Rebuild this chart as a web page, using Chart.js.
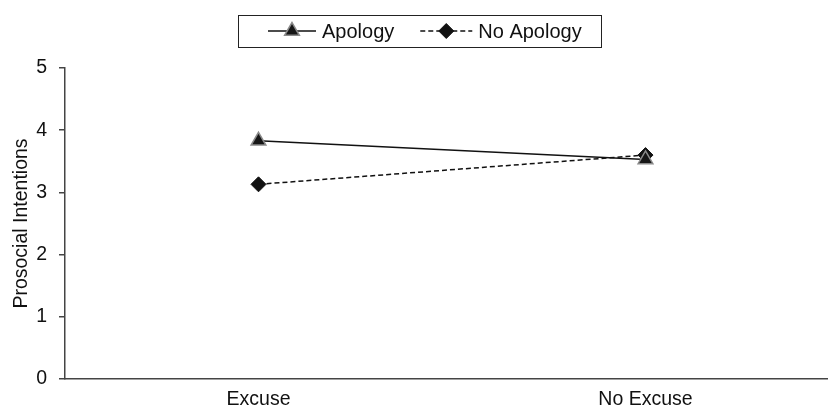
<!DOCTYPE html>
<html>
<head>
<meta charset="utf-8">
<script src="https://cdn.jsdelivr.net/npm/chart.js@4"></script>
<style>
  html, body { margin: 0; padding: 0; background: #fff; overflow: hidden; }
</style>
</head>
<body>
<canvas id="chart" width="849" height="411"></canvas>
<script>
const categories = ['Excuse', 'No Excuse']
const apology = [3.83, 3.53]
const noApology = [3.13, 3.60]
const yTicks = [0, 1, 2, 3, 4, 5]

const FONT = '"Liberation Sans", Arial, Helvetica, sans-serif'

// legend box drawn by hand, the library legend has no frame and no line samples
const legendBox = {
  id: 'legendBox',
  afterDraw(chart) {
    const ctx = chart.ctx
    const cy = 31
    ctx.save()
    ctx.font = '20px ' + FONT
    ctx.strokeStyle = '#222'
    ctx.lineWidth = 1
    ctx.strokeRect(238.5, 15.5, 363, 32)

    let x = 268
    chart.data.datasets.forEach(ds => {
      const sample = ds.borderDash ? 52 : 48
      ctx.strokeStyle = '#111'
      ctx.lineWidth = 1.5
      ctx.setLineDash(ds.borderDash || [])
      ctx.beginPath()
      ctx.moveTo(x, cy)
      ctx.lineTo(x + sample, cy)
      ctx.stroke()
      ctx.setLineDash([])
      ctx.fillStyle = ds.pointBackgroundColor
      ctx.strokeStyle = ds.pointBorderColor
      ctx.lineWidth = ds.pointBorderWidth
      Chart.helpers.drawPoint(ctx, { pointStyle: ds.pointStyle, radius: ds.pointRadius, rotation: 0, borderWidth: ds.pointBorderWidth }, x + sample / 2, cy)
      x += sample + 6
      ctx.fillStyle = '#111'
      ctx.textBaseline = 'middle'
      ctx.textAlign = 'left'
      ctx.fillText(ds.label, x, cy + 1)
      x += ctx.measureText(ds.label).width + 26
    })
    ctx.restore()
  }
}

new Chart(document.getElementById('chart'), {
  type: 'line',
  data: {
    labels: categories,
    datasets: [
      {
        label: 'Apology',
        data: apology,
        borderColor: '#111',
        borderWidth: 1.5,
        pointStyle: 'triangle',
        pointRadius: 8.5,
        pointBackgroundColor: '#161616',
        pointBorderColor: '#8a8a8a',
        pointBorderWidth: 1.5
      },
      {
        label: 'No Apology',
        data: noApology,
        borderColor: '#111',
        borderWidth: 1.5,
        borderDash: [5, 3],
        pointStyle: 'rectRot',
        pointRadius: 7.5,
        pointBackgroundColor: '#111',
        pointBorderColor: '#111',
        pointBorderWidth: 1
      }
    ]
  },
  options: {
    responsive: false,
    animation: false,
    layout: { padding: { top: 68, right: 0, bottom: 0, left: 0 } },
    plugins: {
      legend: { display: false },
      tooltip: { enabled: false }
    },
    scales: {
      x: {
        offset: true,
        grid: { display: false, drawTicks: false },
        border: { display: true, color: '#444', width: 1.5 },
        ticks: { color: '#111', font: { family: FONT, size: 19.5 }, padding: 9, maxRotation: 0 },
        afterFit: s => { s.height = 32 }
      },
      y: {
        min: 0,
        max: 5,
        afterBuildTicks: s => { s.ticks = yTicks.map(v => ({ value: v })) },
        grid: { drawOnChartArea: false, drawTicks: true, tickLength: 6, color: '#444', lineWidth: 1.5 },
        border: { display: true, color: '#444', width: 1.5 },
        ticks: { color: '#111', font: { family: FONT, size: 19.5 }, padding: 12 },
        title: {
          display: true,
          text: 'Prosocial Intentions',
          color: '#111',
          font: { family: FONT, size: 19.5 },
          padding: { top: 10, bottom: 0 }
        },
        afterFit: s => { s.width = 65 }
      }
    }
  },
  plugins: [legendBox]
})
</script>
</body>
</html>
